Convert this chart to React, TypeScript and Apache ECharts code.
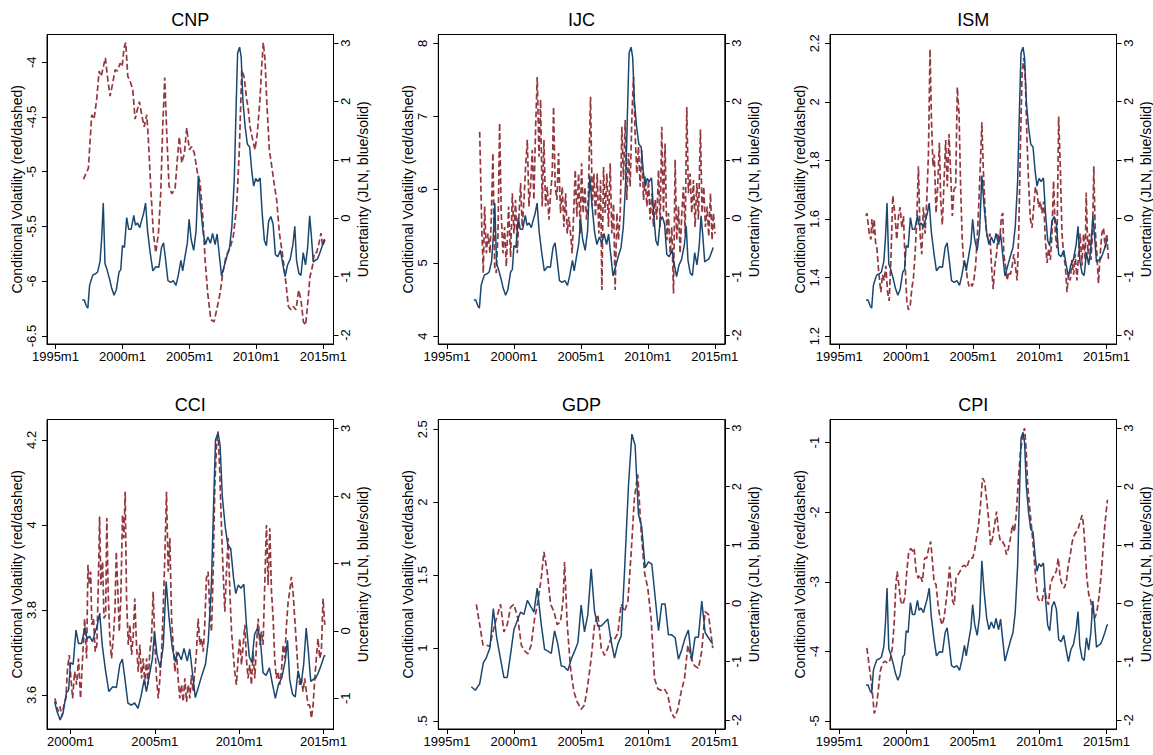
import React, { useEffect, useRef } from "react";
import * as echarts from "echarts";

type P = [number, number];

// JLN uncertainty (monthly), right axis
const jlnMonthly: P[] = [
  [1997.0, -1.4], [1997.15, -1.4], [1997.3, -1.5], [1997.42, -1.54], [1997.55, -1.15], [1997.65, -1.07],
  [1997.8, -0.97], [1998.0, -0.95], [1998.15, -0.92], [1998.33, -0.74], [1998.45, -0.35], [1998.57, 0.26],
  [1998.7, -0.78], [1998.85, -0.88], [1999.05, -1.05], [1999.2, -1.2], [1999.38, -1.32], [1999.55, -1.22],
  [1999.75, -0.92], [1999.88, -0.88], [2000.0, -0.47], [2000.15, -0.5], [2000.32, 0.01], [2000.47, -0.19],
  [2000.65, -0.19], [2000.85, 0.05], [2000.97, -0.12], [2001.12, -0.08], [2001.3, -0.16], [2001.42, -0.05],
  [2001.58, 0.08], [2001.73, 0.26], [2001.88, -0.22], [2002.08, -0.6], [2002.27, -0.9], [2002.5, -0.83],
  [2002.72, -0.84], [2002.92, -0.5], [2003.07, -0.42], [2003.22, -0.7], [2003.4, -1.07], [2003.6, -1.1],
  [2003.8, -1.07], [2004.0, -1.15], [2004.17, -0.98], [2004.37, -0.72], [2004.5, -0.9], [2004.67, -0.66],
  [2004.85, -0.42], [2004.98, -0.02], [2005.13, -0.36], [2005.32, -0.55], [2005.5, -0.22], [2005.67, 0.73],
  [2005.83, 0.22], [2006.03, -0.25], [2006.2, -0.45], [2006.38, -0.32], [2006.57, -0.43], [2006.73, -0.26],
  [2006.92, -0.45], [2007.07, -0.27], [2007.22, -0.6], [2007.4, -0.99], [2007.6, -0.82], [2007.8, -0.65],
  [2008.0, -0.5], [2008.17, -0.15], [2008.35, 0.65], [2008.5, 2.0], [2008.6, 2.83], [2008.75, 2.93],
  [2008.87, 2.75], [2009.0, 2.0], [2009.17, 1.55], [2009.33, 1.27], [2009.5, 1.22], [2009.67, 0.78],
  [2009.8, 0.55], [2009.95, 0.68], [2010.1, 0.63], [2010.28, 0.69], [2010.43, 0.1], [2010.6, -0.38],
  [2010.75, -0.47], [2010.92, -0.05], [2011.08, 0.03], [2011.25, -0.1], [2011.42, -0.62], [2011.6, -0.66],
  [2011.8, -0.55], [2011.97, -0.78], [2012.15, -1.0], [2012.33, -0.8], [2012.53, -0.7], [2012.73, -0.45],
  [2012.87, -0.14], [2013.0, -0.72], [2013.17, -0.94], [2013.33, -0.98], [2013.5, -0.59], [2013.67, -0.8],
  [2013.83, -0.5], [2013.98, 0.04], [2014.1, -0.28], [2014.25, -0.75], [2014.4, -0.72], [2014.55, -0.7],
  [2014.7, -0.62], [2014.88, -0.5], [2015.05, -0.37], [2015.12, -0.37],
];

// JLN uncertainty (quarterly), used with GDP
const jlnQuarterly: P[] = [
  [1996.82, -1.43], [1997.11, -1.49], [1997.44, -1.38], [1997.71, -1.02], [1997.94, -0.93], [1998.21, -0.76],
  [1998.46, -0.09], [1998.71, -0.59], [1998.98, -0.93], [1999.25, -1.27], [1999.5, -1.27], [1999.75, -0.87],
  [2000.0, -0.45], [2000.25, -0.3], [2000.5, -0.15], [2000.75, -0.19], [2001.0, 0.05], [2001.24, -0.05],
  [2001.49, -0.15], [2001.74, 0.26], [2002.04, -0.36], [2002.29, -0.79], [2002.54, -0.82], [2002.79, -0.86],
  [2003.03, -0.47], [2003.28, -0.7], [2003.53, -1.07], [2003.78, -1.09], [2004.03, -1.15], [2004.28, -0.96],
  [2004.53, -0.82], [2004.78, -0.67], [2005.02, -0.03], [2005.27, -0.49], [2005.52, -0.19], [2005.77, 0.59],
  [2006.02, -0.14], [2006.27, -0.39], [2006.52, -0.39], [2006.77, -0.33], [2007.01, -0.27], [2007.26, -0.65],
  [2007.51, -0.94], [2007.76, -0.7], [2008.01, -0.56], [2008.26, 0.55], [2008.56, 2.04], [2008.81, 2.9],
  [2009.05, 2.71], [2009.3, 1.53], [2009.55, 1.3], [2009.8, 0.61], [2010.05, 0.71], [2010.3, 0.67],
  [2010.55, 0.1], [2010.8, -0.47], [2011.04, -0.01], [2011.29, -0.01], [2011.54, -0.54], [2011.79, -0.54],
  [2012.04, -0.59], [2012.29, -0.96], [2012.54, -0.79], [2012.79, -0.59], [2013.03, -0.46], [2013.28, -0.98],
  [2013.53, -0.58], [2013.78, -0.58], [2014.03, 0.04], [2014.28, -0.5], [2014.53, -0.59], [2014.85, -0.7],
];

// Conditional volatility series, left axis
const cnpVol: P[] = [
  [1997.09, -5.07], [1997.3, -5.01], [1997.46, -4.97], [1997.59, -4.71], [1997.71, -4.48], [1997.88, -4.52],
  [1998.08, -4.34], [1998.26, -4.08], [1998.41, -4.13], [1998.58, -4.04], [1998.73, -3.96], [1998.88, -4.13],
  [1999.08, -4.31], [1999.28, -4.19], [1999.45, -4.07], [1999.63, -4.08], [1999.83, -4.01], [1999.98, -4.04],
  [2000.12, -3.87], [2000.25, -3.82], [2000.4, -4.13], [2000.57, -4.17], [2000.77, -4.25], [2000.95, -4.52],
  [2001.12, -4.43], [2001.27, -4.36], [2001.44, -4.48], [2001.62, -4.59], [2001.82, -4.48], [2001.94, -4.71],
  [2002.11, -5.13], [2002.31, -5.56], [2002.49, -5.74], [2002.69, -5.56], [2002.86, -5.2], [2003.01, -4.59],
  [2003.16, -4.14], [2003.31, -4.65], [2003.48, -5.13], [2003.68, -5.2], [2003.93, -5.16], [2004.1, -4.89],
  [2004.25, -4.68], [2004.43, -4.92], [2004.63, -4.83], [2004.8, -4.6], [2005.0, -4.8], [2005.17, -4.77],
  [2005.37, -4.83], [2005.6, -5.01], [2005.8, -5.1], [2006.0, -5.41], [2006.17, -5.8], [2006.37, -6.11],
  [2006.6, -6.35], [2006.84, -6.37], [2007.04, -6.26], [2007.29, -6.11], [2007.49, -5.93], [2007.74, -5.77],
  [2008.03, -5.7], [2008.28, -5.59], [2008.53, -5.32], [2008.73, -4.8], [2008.91, -4.07], [2009.08, -4.13],
  [2009.28, -4.34], [2009.4, -4.43], [2009.53, -4.59], [2009.73, -4.71], [2009.9, -4.8], [2010.07, -4.65],
  [2010.27, -4.34], [2010.4, -4.04], [2010.52, -3.82], [2010.65, -3.98], [2010.77, -4.34], [2010.97, -4.8],
  [2011.15, -4.95], [2011.32, -5.1], [2011.52, -5.26], [2011.72, -5.56], [2011.97, -5.77], [2012.21, -6.02],
  [2012.39, -6.23], [2012.59, -6.26], [2012.76, -6.23], [2012.96, -6.26], [2013.16, -6.08], [2013.33, -6.17],
  [2013.51, -6.37], [2013.68, -6.4], [2013.86, -6.17], [2014.0, -5.96], [2014.18, -5.87], [2014.33, -5.74],
  [2014.5, -5.74], [2014.68, -5.65], [2014.83, -5.56], [2014.95, -5.68], [2015.12, -5.62],
];

const ijcVol: P[] = [
  [1997.44, 6.79], [1997.61, 5.4], [1997.71, 4.86], [1997.81, 5.77], [1997.94, 5.13], [1998.06, 5.4],
  [1998.21, 5.13], [1998.31, 5.63], [1998.43, 6.5], [1998.56, 4.95], [1998.68, 4.86], [1998.81, 5.4],
  [1998.93, 6.91], [1999.05, 5.68], [1999.18, 5.13], [1999.3, 5.49], [1999.43, 4.95], [1999.6, 5.77],
  [1999.75, 5.08], [1999.88, 5.95], [2000.0, 5.4], [2000.12, 5.86], [2000.25, 5.13], [2000.37, 5.63],
  [2000.5, 6.09], [2000.62, 5.49], [2000.75, 5.86], [2000.87, 6.31], [2001.0, 6.68], [2001.12, 5.77],
  [2001.24, 6.04], [2001.37, 6.54], [2001.49, 5.86], [2001.62, 6.86], [2001.74, 7.54], [2001.87, 6.45],
  [2001.99, 7.23], [2002.11, 5.77], [2002.24, 6.68], [2002.36, 5.77], [2002.49, 6.04], [2002.61, 5.59],
  [2002.74, 5.95], [2002.86, 6.22], [2002.96, 7.13], [2003.08, 6.04], [2003.21, 5.86], [2003.33, 6.5],
  [2003.48, 5.68], [2003.61, 6.04], [2003.73, 5.49], [2003.86, 5.95], [2003.98, 5.4], [2004.1, 5.63],
  [2004.23, 5.4], [2004.35, 5.13], [2004.48, 5.77], [2004.58, 6.27], [2004.7, 5.63], [2004.83, 6.22],
  [2004.95, 5.4], [2005.05, 6.36], [2005.17, 5.68], [2005.3, 6.04], [2005.42, 5.59], [2005.55, 5.86],
  [2005.72, 7.27], [2005.85, 5.77], [2005.97, 6.22], [2006.09, 5.63], [2006.22, 6.22], [2006.34, 5.4],
  [2006.47, 6.13], [2006.57, 4.63], [2006.69, 6.31], [2006.82, 5.68], [2006.94, 6.22], [2007.06, 5.49],
  [2007.19, 6.36], [2007.31, 5.4], [2007.44, 5.81], [2007.56, 4.63], [2007.69, 5.68], [2007.81, 5.31],
  [2007.94, 5.68], [2008.06, 6.86], [2008.18, 6.13], [2008.31, 6.95], [2008.43, 5.86], [2008.56, 6.5],
  [2008.68, 6.04], [2008.81, 7.0], [2008.93, 7.54], [2009.05, 6.77], [2009.18, 6.22], [2009.3, 6.59],
  [2009.43, 6.04], [2009.55, 6.54], [2009.68, 5.86], [2009.8, 6.18], [2009.93, 5.77], [2010.05, 6.13],
  [2010.17, 5.59], [2010.3, 5.95], [2010.42, 5.49], [2010.55, 5.86], [2010.67, 5.59], [2010.8, 6.27],
  [2010.92, 5.49], [2011.04, 6.86], [2011.17, 5.68], [2011.29, 6.63], [2011.42, 5.31], [2011.54, 5.68],
  [2011.67, 5.13], [2011.79, 5.49], [2011.92, 4.58], [2012.04, 6.41], [2012.16, 5.31], [2012.29, 5.77],
  [2012.41, 5.13], [2012.54, 5.68], [2012.66, 6.04], [2012.79, 5.4], [2012.91, 7.13], [2013.03, 5.95],
  [2013.16, 6.22], [2013.28, 5.68], [2013.41, 6.13], [2013.53, 5.49], [2013.66, 6.09], [2013.78, 5.59],
  [2013.93, 6.82], [2014.05, 5.68], [2014.18, 6.04], [2014.3, 5.49], [2014.43, 5.77], [2014.55, 5.36],
  [2014.68, 5.95], [2014.8, 5.31], [2014.9, 5.68], [2015.02, 5.4],
];

const ismVol: P[] = [
  [1997.0, 1.61], [1997.06, 1.62], [1997.24, 1.55], [1997.36, 1.53], [1997.44, 1.6], [1997.54, 1.55],
  [1997.61, 1.6], [1997.71, 1.52], [1997.81, 1.5], [1997.91, 1.44], [1998.01, 1.39], [1998.11, 1.35],
  [1998.23, 1.41], [1998.36, 1.39], [1998.48, 1.44], [1998.61, 1.35], [1998.73, 1.32], [1998.86, 1.46],
  [1999.0, 1.68], [1999.15, 1.62], [1999.3, 1.53], [1999.43, 1.61], [1999.55, 1.64], [1999.68, 1.57],
  [1999.8, 1.61], [1999.93, 1.44], [2000.05, 1.32], [2000.17, 1.29], [2000.3, 1.3], [2000.42, 1.36],
  [2000.55, 1.4], [2000.67, 1.48], [2000.8, 1.6], [2000.92, 1.78], [2001.04, 1.55], [2001.17, 1.48],
  [2001.29, 1.64], [2001.42, 1.55], [2001.54, 1.66], [2001.67, 1.82], [2001.79, 2.18], [2001.89, 1.95],
  [2002.01, 1.78], [2002.11, 1.82], [2002.24, 1.62], [2002.36, 1.71], [2002.49, 1.86], [2002.59, 1.66],
  [2002.71, 1.58], [2002.84, 1.73], [2002.96, 1.87], [2003.08, 1.71], [2003.21, 1.89], [2003.33, 1.76],
  [2003.46, 1.61], [2003.58, 1.7], [2003.71, 1.71], [2003.83, 2.05], [2003.96, 1.96], [2004.08, 1.71],
  [2004.2, 1.53], [2004.33, 1.44], [2004.45, 1.45], [2004.58, 1.4], [2004.7, 1.37], [2004.83, 1.38],
  [2004.95, 1.37], [2005.07, 1.39], [2005.2, 1.44], [2005.32, 1.53], [2005.45, 1.66], [2005.57, 1.8],
  [2005.67, 1.93], [2005.77, 1.78], [2005.9, 1.64], [2006.02, 1.55], [2006.14, 1.53], [2006.27, 1.55],
  [2006.39, 1.44], [2006.52, 1.36], [2006.64, 1.44], [2006.77, 1.48], [2006.89, 1.55], [2007.01, 1.53],
  [2007.14, 1.61], [2007.24, 1.62], [2007.31, 1.48], [2007.44, 1.44], [2007.56, 1.39], [2007.69, 1.42],
  [2007.81, 1.41], [2007.94, 1.44], [2008.06, 1.48], [2008.18, 1.44], [2008.31, 1.39], [2008.43, 1.55],
  [2008.56, 1.86], [2008.68, 2.1], [2008.81, 2.15], [2008.93, 2.07], [2009.05, 1.87], [2009.18, 1.71],
  [2009.3, 1.6], [2009.43, 1.57], [2009.55, 1.64], [2009.68, 1.71], [2009.8, 1.69], [2009.93, 1.64],
  [2010.05, 1.66], [2010.17, 1.62], [2010.3, 1.66], [2010.42, 1.53], [2010.55, 1.45], [2010.67, 1.5],
  [2010.8, 1.46], [2010.92, 1.55], [2011.04, 1.73], [2011.17, 1.55], [2011.29, 1.5], [2011.42, 1.95],
  [2011.54, 1.78], [2011.67, 1.55], [2011.79, 1.48], [2011.92, 1.44], [2012.04, 1.35], [2012.16, 1.41],
  [2012.29, 1.39], [2012.41, 1.46], [2012.54, 1.41], [2012.66, 1.48], [2012.79, 1.39], [2012.91, 1.48],
  [2013.03, 1.55], [2013.16, 1.44], [2013.28, 1.55], [2013.41, 1.46], [2013.48, 1.69], [2013.61, 1.48],
  [2013.73, 1.55], [2013.83, 1.46], [2013.96, 1.55], [2014.05, 1.78], [2014.15, 1.57], [2014.28, 1.48],
  [2014.4, 1.38], [2014.53, 1.48], [2014.65, 1.55], [2014.78, 1.57], [2014.9, 1.5], [2015.02, 1.55],
  [2015.15, 1.46],
];

const cciVol: P[] = [
  [1999.07, 3.592], [1999.17, 3.576], [1999.27, 3.561], [1999.37, 3.573], [1999.49, 3.549], [1999.6, 3.576],
  [1999.72, 3.592], [1999.82, 3.663], [1999.92, 3.694], [2000.02, 3.639], [2000.12, 3.592], [2000.24, 3.655],
  [2000.36, 3.624], [2000.47, 3.686], [2000.59, 3.592], [2000.71, 3.686], [2000.83, 3.78], [2000.95, 3.686],
  [2001.03, 3.906], [2001.11, 3.859], [2001.19, 3.89], [2001.26, 3.765], [2001.36, 3.78], [2001.46, 3.702],
  [2001.56, 3.718], [2001.66, 3.89], [2001.72, 4.02], [2001.8, 3.859], [2001.9, 3.914], [2001.98, 3.78],
  [2002.08, 3.788], [2002.15, 4.016], [2002.23, 3.843], [2002.33, 3.733], [2002.43, 3.686], [2002.53, 3.733],
  [2002.63, 3.796], [2002.71, 3.937], [2002.79, 3.859], [2002.89, 3.749], [2002.98, 3.827], [2003.08, 4.024],
  [2003.16, 3.969], [2003.24, 4.078], [2003.32, 3.827], [2003.42, 3.718], [2003.52, 3.765], [2003.62, 3.694],
  [2003.72, 3.741], [2003.81, 3.827], [2003.91, 3.718], [2004.01, 3.655], [2004.11, 3.718], [2004.21, 3.639],
  [2004.31, 3.686], [2004.41, 3.624], [2004.51, 3.686], [2004.6, 3.624], [2004.7, 3.702], [2004.8, 3.733],
  [2004.9, 3.843], [2005.0, 3.718], [2005.1, 3.639], [2005.2, 3.592], [2005.3, 3.639], [2005.4, 3.702],
  [2005.49, 3.796], [2005.59, 3.922], [2005.69, 4.078], [2005.79, 3.89], [2005.89, 3.969], [2005.99, 3.78],
  [2006.09, 3.718], [2006.19, 3.655], [2006.28, 3.702], [2006.38, 3.639], [2006.48, 3.592], [2006.58, 3.624],
  [2006.68, 3.584], [2006.78, 3.639], [2006.88, 3.584], [2006.98, 3.624], [2007.08, 3.592], [2007.17, 3.647],
  [2007.27, 3.608], [2007.37, 3.655], [2007.47, 3.702], [2007.57, 3.78], [2007.67, 3.718], [2007.77, 3.733],
  [2007.87, 3.702], [2007.96, 3.765], [2008.06, 3.875], [2008.16, 3.89], [2008.26, 3.796], [2008.36, 3.749],
  [2008.46, 3.89], [2008.56, 4.094], [2008.66, 4.188], [2008.75, 4.22], [2008.85, 4.125], [2008.95, 4.0],
  [2009.05, 3.89], [2009.15, 3.796], [2009.25, 3.89], [2009.35, 3.969], [2009.45, 3.843], [2009.55, 3.749],
  [2009.64, 3.702], [2009.74, 3.655], [2009.84, 3.624], [2009.94, 3.686], [2010.04, 3.733], [2010.14, 3.671],
  [2010.24, 3.718], [2010.34, 3.765], [2010.43, 3.686], [2010.53, 3.639], [2010.63, 3.671], [2010.73, 3.624],
  [2010.83, 3.702], [2010.93, 3.639], [2011.03, 3.718], [2011.13, 3.78], [2011.23, 3.718], [2011.32, 3.749],
  [2011.42, 3.718], [2011.52, 3.859], [2011.62, 4.0], [2011.72, 3.859], [2011.82, 3.992], [2011.92, 3.843],
  [2012.02, 3.78], [2012.11, 3.686], [2012.21, 3.639], [2012.31, 3.655], [2012.41, 3.624], [2012.51, 3.655],
  [2012.61, 3.718], [2012.71, 3.686], [2012.81, 3.765], [2012.91, 3.82], [2013.0, 3.843], [2013.1, 3.878],
  [2013.2, 3.843], [2013.3, 3.78], [2013.4, 3.718], [2013.5, 3.655], [2013.6, 3.624], [2013.7, 3.639],
  [2013.79, 3.608], [2013.89, 3.639], [2013.99, 3.608], [2014.09, 3.576], [2014.19, 3.576], [2014.29, 3.545],
  [2014.39, 3.576], [2014.49, 3.639], [2014.58, 3.686], [2014.68, 3.733], [2014.78, 3.686], [2014.88, 3.702],
  [2014.98, 3.827], [2015.08, 3.765],
];

const gdpVol: P[] = [
  [1997.19, 1.3], [1997.44, 1.16], [1997.69, 1.02], [1997.94, 1.02], [1998.18, 1.01], [1998.43, 1.11],
  [1998.68, 1.2], [1999.0, 1.3], [1999.25, 1.11], [1999.5, 1.16], [1999.75, 1.28], [2000.0, 1.3],
  [2000.3, 1.2], [2000.55, 1.02], [2000.8, 0.98], [2001.04, 0.96], [2001.29, 1.02], [2001.54, 1.2],
  [2001.79, 1.32], [2002.04, 1.48], [2002.24, 1.66], [2002.49, 1.52], [2002.74, 1.3], [2002.99, 1.25],
  [2003.23, 1.16], [2003.48, 1.18], [2003.68, 1.34], [2003.78, 1.59], [2003.98, 1.16], [2004.23, 0.86],
  [2004.48, 0.7], [2004.73, 0.63], [2005.02, 0.58], [2005.27, 0.61], [2005.52, 0.75], [2005.77, 0.93],
  [2006.02, 1.16], [2006.27, 1.23], [2006.52, 1.0], [2006.77, 0.95], [2007.01, 1.0], [2007.26, 1.07],
  [2007.51, 1.06], [2007.76, 1.1], [2008.01, 1.3], [2008.26, 1.25], [2008.51, 1.32], [2008.76, 1.66],
  [2009.0, 2.03], [2009.25, 2.19], [2009.5, 1.8], [2009.75, 1.52], [2010.0, 1.41], [2010.25, 1.2],
  [2010.5, 0.79], [2010.75, 0.72], [2011.0, 0.71], [2011.24, 0.72], [2011.49, 0.68], [2011.74, 0.56],
  [2011.99, 0.52], [2012.24, 0.58], [2012.49, 0.7], [2012.74, 0.79], [2012.99, 1.02], [2013.23, 0.93],
  [2013.48, 0.88], [2013.78, 0.86], [2014.03, 0.98], [2014.28, 1.25], [2014.53, 1.23], [2014.85, 1.0],
];

const cpiVol: P[] = [
  [1997.06, -3.95], [1997.19, -4.14], [1997.31, -4.33], [1997.41, -4.48], [1997.51, -4.67], [1997.61, -4.89],
  [1997.76, -4.81], [1997.91, -4.57], [1998.06, -4.29], [1998.23, -4.17], [1998.41, -4.14], [1998.61, -4.17],
  [1998.81, -4.12], [1998.96, -3.95], [1999.1, -3.62], [1999.23, -3.04], [1999.33, -2.85], [1999.45, -3.04],
  [1999.6, -3.28], [1999.75, -3.33], [1999.9, -3.23], [2000.05, -2.85], [2000.2, -2.56], [2000.35, -2.52],
  [2000.5, -2.56], [2000.6, -2.52], [2000.75, -2.85], [2000.9, -2.95], [2001.04, -2.9], [2001.22, -3.0],
  [2001.39, -2.66], [2001.54, -2.66], [2001.69, -2.52], [2001.84, -2.42], [2001.97, -2.71], [2002.09, -3.0],
  [2002.24, -3.04], [2002.39, -3.33], [2002.54, -3.52], [2002.69, -3.62], [2002.84, -3.52], [2002.99, -3.28],
  [2003.13, -3.04], [2003.26, -2.78], [2003.36, -3.04], [2003.48, -3.28], [2003.61, -3.33], [2003.73, -2.95],
  [2003.88, -2.9], [2004.03, -2.85], [2004.2, -2.78], [2004.38, -2.76], [2004.53, -2.8], [2004.68, -2.71],
  [2004.83, -2.66], [2004.98, -2.66], [2005.12, -2.56], [2005.27, -2.37], [2005.42, -2.18], [2005.57, -1.89],
  [2005.72, -1.51], [2005.87, -1.56], [2006.02, -1.8], [2006.17, -2.09], [2006.32, -2.47], [2006.47, -2.37],
  [2006.62, -2.18], [2006.77, -1.99], [2006.92, -2.28], [2007.06, -2.42], [2007.21, -2.42], [2007.36, -2.47],
  [2007.51, -2.61], [2007.66, -2.52], [2007.81, -2.37], [2007.96, -2.18], [2008.11, -2.28], [2008.26, -1.99],
  [2008.41, -1.51], [2008.56, -1.13], [2008.71, -0.94], [2008.86, -0.79], [2008.98, -1.08], [2009.1, -1.61],
  [2009.25, -1.94], [2009.4, -2.23], [2009.55, -2.56], [2009.7, -2.95], [2009.85, -3.23], [2010.0, -3.28],
  [2010.17, -3.28], [2010.35, -3.09], [2010.5, -3.23], [2010.65, -3.33], [2010.8, -3.04], [2010.95, -2.95],
  [2011.09, -2.9], [2011.24, -2.85], [2011.39, -2.66], [2011.54, -2.95], [2011.69, -3.04], [2011.84, -3.09],
  [2011.99, -3.0], [2012.14, -2.76], [2012.29, -2.61], [2012.44, -2.42], [2012.59, -2.33], [2012.74, -2.28],
  [2012.89, -2.23], [2013.03, -2.13], [2013.18, -2.04], [2013.28, -2.18], [2013.41, -2.56], [2013.53, -2.95],
  [2013.68, -3.19], [2013.83, -3.28], [2013.98, -3.47], [2014.13, -3.52], [2014.28, -3.43], [2014.43, -3.23],
  [2014.58, -2.95], [2014.73, -2.56], [2014.88, -2.18], [2015.07, -1.82],
];

// tick labels
const xTicksFull = [1995, 2000, 2005, 2010, 2015];
const xTicksCCI = [2000, 2005, 2010, 2015];
const rightTicks = [-2, -1, 0, 1, 2, 3];
const cnpTicks = [-6.5, -6, -5.5, -5, -4.5, -4];
const ijcTicks = [4, 5, 6, 7, 8];
const ismTicks = [1.2, 1.4, 1.6, 1.8, 2, 2.2];
const cciTicks = [3.6, 3.8, 4, 4.2];
const gdpTicks = [0.5, 1, 1.5, 2, 2.5];
const cpiTicks = [-5, -4, -3, -2, -1];

const FONT = '"Liberation Sans", Arial, Helvetica, sans-serif';
const RED = "#93383f";
const BLUE = "#1a476f";
const W = 286.5;
const H = 309.5;

const panels = [
  { title: "CNP", vol: cnpVol, unc: jlnMonthly, left: 47, top: 34.5, lmin: -6.573, lmax: -3.747, lticks: cnpTicks, rmin: -2.154, rmax: 3.147, xmin: 1994.37, xmax: 2015.76, xticks: xTicksFull },
  { title: "IJC", vol: ijcVol, unc: jlnMonthly.filter((p) => p[0] <= 2014.95), left: 438.3, top: 34.5, lmin: 3.891, lmax: 8.12, lticks: ijcTicks, rmin: -2.154, rmax: 3.147, xmin: 1994.35, xmax: 2015.75, xticks: xTicksFull },
  { title: "ISM", vol: ismVol, unc: jlnMonthly, left: 830, top: 34.5, lmin: 1.173, lmax: 2.23, lticks: ismTicks, rmin: -2.154, rmax: 3.147, xmin: 1994.3, xmax: 2015.75, xticks: xTicksFull },
  { title: "CCI", vol: cciVol, unc: jlnMonthly.filter((p) => p[0] >= 1999.0), left: 47, top: 419.5, lmin: 3.52, lmax: 4.248, lticks: cciTicks, rmin: -1.455, rmax: 3.13, xmin: 1998.6, xmax: 2015.6, xticks: xTicksCCI },
  { title: "GDP", vol: gdpVol, unc: jlnQuarterly, left: 438.3, top: 419.5, lmin: 0.445, lmax: 2.567, lticks: gdpTicks, rmin: -2.154, rmax: 3.15, xmin: 1994.35, xmax: 2015.75, xticks: xTicksFull },
  { title: "CPI", vol: cpiVol, unc: jlnMonthly, left: 830, top: 419.5, lmin: -5.115, lmax: -0.667, lticks: cpiTicks, rmin: -2.154, rmax: 3.15, xmin: 1994.3, xmax: 2015.75, xticks: xTicksFull },
];

function fmtNum(v: number): string {
  let s = String(Math.round(v * 1000) / 1000);
  if (s.startsWith("0.")) s = s.slice(1);
  if (s.startsWith("-0.")) s = "-" + s.slice(2);
  return s;
}

function buildOption() {
  const grid: any[] = [];
  const xAxis: any[] = [];
  const yAxis: any[] = [];
  const series: any[] = [];
  const graphic: any[] = [];
  const axisLine = { show: true, onZero: false, lineStyle: { color: "#000", width: 1 } };
  panels.forEach((p, i) => {
    grid.push({
      left: p.left, top: p.top, width: W, height: H,
      show: true, borderColor: "#000", borderWidth: 1, backgroundColor: "#fff",
      containLabel: false, outerBoundsMode: "none",
    });
    xAxis.push({
      type: "value", gridIndex: i, min: p.xmin, max: p.xmax, position: "bottom",
      axisLine,
      axisTick: { show: true, inside: false, length: 5, customValues: p.xticks, lineStyle: { color: "#000" } },
      axisLabel: { show: true, customValues: p.xticks, margin: 6, color: "#000", fontSize: 13, fontFamily: FONT, formatter: (v: number) => `${Math.round(v)}m1` },
      splitLine: { show: false },
    });
    yAxis.push({
      type: "value", gridIndex: i, position: "left", min: p.lmin, max: p.lmax,
      axisLine,
      axisTick: { show: true, inside: false, length: 5, customValues: p.lticks, lineStyle: { color: "#000" } },
      axisLabel: { show: true, customValues: p.lticks, rotate: 90, margin: 9, color: "#000", fontSize: 13, fontFamily: FONT, formatter: (v: number) => fmtNum(v) },
      splitLine: { show: false },
      name: "Conditional Volatility (red/dashed)", nameLocation: "middle", nameRotate: 90, nameGap: 23,
      nameTextStyle: { color: "#000", fontSize: 14, fontFamily: FONT },
    });
    yAxis.push({
      type: "value", gridIndex: i, position: "right", min: p.rmin, max: p.rmax,
      axisLine,
      axisTick: { show: true, inside: false, length: 5, customValues: rightTicks, lineStyle: { color: "#000" } },
      axisLabel: { show: true, customValues: rightTicks, rotate: 90, margin: 5, color: "#000", fontSize: 13, fontFamily: FONT, formatter: (v: number) => fmtNum(v) },
      splitLine: { show: false },
      name: "Uncertainty (JLN, blue/solid)", nameLocation: "middle", nameRotate: 90, nameGap: 22,
      nameTextStyle: { color: "#000", fontSize: 14, fontFamily: FONT },
    });
    series.push({
      type: "line", xAxisIndex: i, yAxisIndex: 2 * i, data: p.vol, showSymbol: false, symbol: "none",
      lineStyle: { color: RED, width: 1.7, type: [6, 3] }, silent: true, z: 2,
    });
    series.push({
      type: "line", xAxisIndex: i, yAxisIndex: 2 * i + 1, data: p.unc, showSymbol: false, symbol: "none",
      lineStyle: { color: BLUE, width: 1.5 }, silent: true, z: 3,
    });
    graphic.push({
      type: "text", x: p.left + W / 2, y: p.top - 14.5,
      style: { text: p.title, font: `18px ${FONT}`, fill: "#000", align: "center", verticalAlign: "middle", textAlign: "center", textVerticalAlign: "middle" },
    });
  });
  return { animation: false, backgroundColor: "#fff", grid, xAxis, yAxis, series, graphic };
}

export default function App() {
  const ref = useRef<HTMLDivElement>(null);
  useEffect(() => {
    if (!ref.current) return;
    const chart = echarts.init(ref.current, undefined, { renderer: "svg" });
    chart.setOption(buildOption() as any);
    return () => chart.dispose();
  }, []);
  return <div ref={ref} style={{ position: "absolute", left: 0, top: 0, width: 1153, height: 755, background: "#fff" }} />;
}
